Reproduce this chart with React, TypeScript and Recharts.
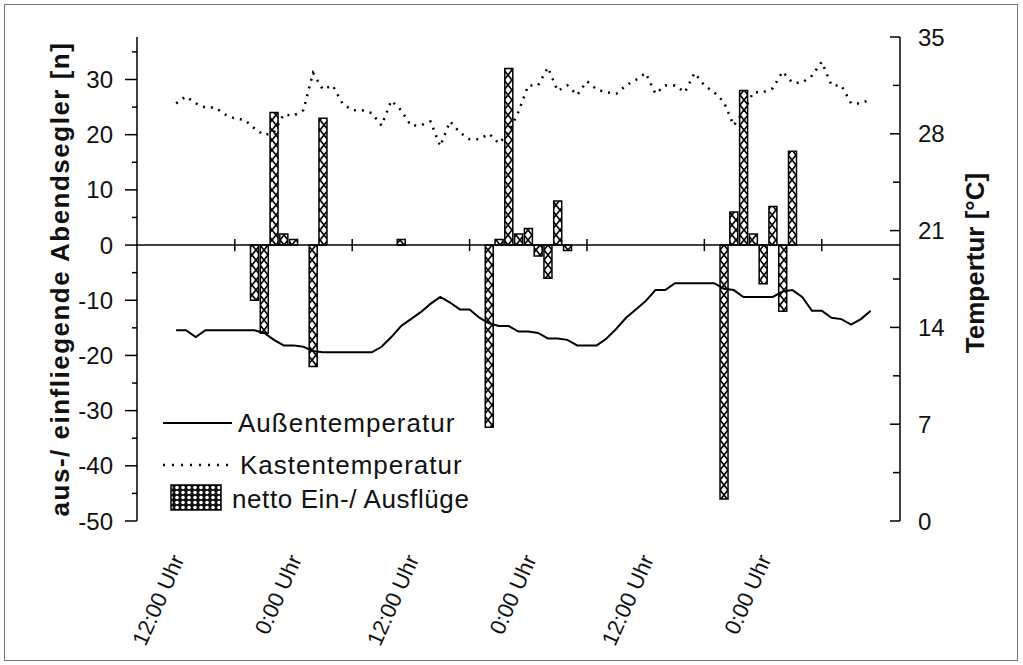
import React from "react";
import {
  ComposedChart,
  Bar,
  Line,
  XAxis,
  YAxis,
  ReferenceLine,
  Label,
} from "recharts";

// hour index of each reading (one per hour, 3 days)
const HOURS = Array.from({ length: 72 }, (_, i) => i);

// Außentemperatur [°C]
const AUSSEN = [
  13.8, 13.8, 13.3, 13.8, 13.8, 13.8, 13.8, 13.8, 13.8, 13.6,
  13.1, 12.7, 12.7, 12.6, 12.3, 12.2, 12.2, 12.2, 12.2, 12.2,
  12.2, 12.6, 13.3, 14.1, 14.6, 15.1, 15.7, 16.2, 15.8, 15.3,
  15.3, 14.7, 14.3, 14.1, 14.1, 13.7, 13.7, 13.6, 13.2, 13.2,
  13.1, 12.7, 12.7, 12.7, 13.2, 13.9, 14.7, 15.3, 15.9, 16.7,
  16.7, 17.2, 17.2, 17.2, 17.2, 17.2, 16.8, 16.7, 16.2, 16.2,
  16.2, 16.2, 16.6, 16.7, 16.2, 15.2, 15.2, 14.7, 14.6, 14.2,
  14.6, 15.2,
];

// Kastentemperatur [°C]
const KASTEN = [
  30.2, 30.7, 30.2, 29.9, 29.9, 29.4, 29.1, 29.0, 28.4, 27.9,
  28.1, 29.4, 29.3, 29.7, 32.4, 31.2, 31.5, 30.2, 29.7, 29.7,
  29.5, 28.6, 30.4, 29.7, 28.6, 28.6, 28.9, 27.1, 28.9, 28.1,
  27.6, 27.6, 28.0, 27.3, 28.1, 29.6, 31.5, 31.5, 32.8, 31.1,
  31.5, 30.8, 31.8, 31.2, 31.0, 30.9, 31.5, 31.9, 32.4, 30.9,
  31.5, 31.5, 31.0, 32.4, 31.5, 31.0, 30.3, 28.6, 29.6, 31.0,
  31.0, 31.3, 32.5, 31.7, 31.7, 32.2, 33.2, 31.5, 31.5, 30.2,
  30.2, 30.5,
];

// netto Ein-/ Ausflüge [n]
const BAR_HOURS = [8, 9, 10, 11, 12, 14, 15, 23, 32, 33, 34, 35, 36, 37, 38, 39, 40, 56, 57, 58, 59, 60, 61, 62, 63];
const BAR_VALUES = [-10, -16, 24, 2, 1, -22, 23, 1, -33, 1, 32, 2, 3, -2, -6, 8, -1, -46, 6, 28, 2, -7, 7, -12, 17];

const X_TICKS = [6, 18, 30, 42, 54, 66];
const X_LABELS = ["12:00 Uhr", "0:00 Uhr", "12:00 Uhr", "0:00 Uhr", "12:00 Uhr", "0:00 Uhr"];

const LEFT_TICKS = [-50, -45, -40, -35, -30, -25, -20, -15, -10, -5, 0, 5, 10, 15, 20, 25, 30, 35];
const RIGHT_TICKS = [0, 3.5, 7, 10.5, 14, 17.5, 21, 24.5, 28, 31.5, 35];

const data = HOURS.map((h, i) => {
  const b = BAR_HOURS.indexOf(h);
  return {
    h,
    aussen: AUSSEN[i],
    kasten: KASTEN[i],
    netto: b >= 0 ? BAR_VALUES[b] : null,
  };
});

const FONT = "'Liberation Sans', Arial, Helvetica, sans-serif";

function LeftTick(props: any) {
  const { x, y, payload } = props;
  const major = payload.value % 10 === 0;
  return (
    <g>
      <line x1={x - (major ? 12 : 5)} y1={y} x2={x} y2={y} stroke="#000" strokeWidth={1.5} />
      {major && (
        <text x={x - 24} y={y} textAnchor="end" dominantBaseline="central" fontSize={24} fontFamily={FONT} fill="#111">
          {payload.value}
        </text>
      )}
    </g>
  );
}

function RightTick(props: any) {
  const { x, y, payload } = props;
  const major = Math.round(payload.value) === payload.value;
  return (
    <g>
      <line x1={x - (major ? 10 : 7)} y1={y} x2={x} y2={y} stroke="#000" strokeWidth={1.5} />
      {major && (
        <text x={x + 18} y={y} textAnchor="start" dominantBaseline="central" fontSize={24} fontFamily={FONT} fill="#111">
          {payload.value}
        </text>
      )}
    </g>
  );
}

function XTick(props: any) {
  const { x, y, payload } = props;
  const i = X_TICKS.indexOf(payload.value);
  const tx = x - 50;
  const ty = y + 38;
  return (
    <text
      x={tx}
      y={ty}
      transform={`rotate(-66, ${tx}, ${ty})`}
      textAnchor="end"
      fontSize={22}
      fontFamily={FONT}
      fill="#111"
    >
      {X_LABELS[i]}
    </text>
  );
}

function Legendbox() {
  return (
    <svg
      width={340}
      height={125}
      style={{ position: "absolute", left: 150, top: 400 }}
    >
      <line x1={13} y1={23} x2={82} y2={23} stroke="#000" strokeWidth={2} />
      <text x={88} y={23} dominantBaseline="central" fontSize={26} letterSpacing={1} fontFamily={FONT} fill="#111">
        Außentemperatur
      </text>
      <line x1={13} y1={65} x2={85} y2={65} stroke="#000" strokeWidth={2.5} strokeDasharray="2 7" />
      <text x={90} y={65} dominantBaseline="central" fontSize={26} letterSpacing={1} fontFamily={FONT} fill="#111">
        Kastentemperatur
      </text>
      <rect x={21} y={85} width={50} height={25} fill="url(#dots)" stroke="#000" strokeWidth={1.5} />
      <text x={82} y={99} dominantBaseline="central" fontSize={26} letterSpacing={0.6} fontFamily={FONT} fill="#111">
        netto Ein-/ Ausflüge
      </text>
    </svg>
  );
}

export default function App() {
  return (
    <div style={{ position: "absolute", left: 0, top: 0, width: 1023, height: 665, background: "#fff" }}>
      <div
        style={{
          position: "absolute",
          left: 4,
          top: 4,
          width: 1012,
          height: 655,
          border: "1.5px solid #777",
        }}
      />
      <svg width={0} height={0} style={{ position: "absolute" }}>
        <defs>
          <pattern id="hatch" patternUnits="userSpaceOnUse" width={8} height={10}>
            <rect width={8} height={10} fill="#fff" />
            <path d="M0,0 L8,10 M8,0 L0,10" stroke="#000" strokeWidth={1.7} />
          </pattern>
          <pattern id="dots" patternUnits="userSpaceOnUse" width={6} height={5}>
            <rect width={6} height={5} fill="#111" />
            <circle cx={3} cy={2.5} r={1.8} fill="#fff" />
          </pattern>
        </defs>
      </svg>
      <ComposedChart
        width={1023}
        height={665}
        data={data}
        margin={{ top: 37, right: 0, bottom: 0, left: 0 }}
        style={{ position: "absolute", left: 0, top: 0 }}
      >
        <XAxis
          type="number"
          dataKey="h"
          domain={[-4, 74]}
          ticks={X_TICKS}
          interval={0}
          height={144}
          axisLine={false}
          tickLine={false}
          tickSize={0}
          tickMargin={0}
          tick={<XTick />}
        />
        <YAxis
          yAxisId="n"
          type="number"
          domain={[-50, 37.7]}
          ticks={LEFT_TICKS}
          interval={0}
          width={137}
          axisLine={{ stroke: "#000", strokeWidth: 1.5 }}
          tickLine={false}
          tickSize={0}
          tickMargin={0}
          tick={<LeftTick />}
        >
          <Label
            content={({ viewBox }: any) => {
              const cx = viewBox.x + 60;
              const cy = viewBox.y + viewBox.height / 2;
              return (
                <text
                  x={cx}
                  y={cy}
                  transform={`rotate(-90, ${cx}, ${cy})`}
                  textAnchor="middle"
                  dominantBaseline="central"
                  fontSize={26}
                  letterSpacing={1.5}
                  fontWeight="bold"
                  fontFamily={FONT}
                  fill="#111"
                >
                  aus-/ einfliegende Abendsegler [n]
                </text>
              );
            }}
          />
        </YAxis>
        <YAxis
          yAxisId="t"
          orientation="right"
          type="number"
          domain={[0, 35]}
          ticks={RIGHT_TICKS}
          interval={0}
          width={123}
          axisLine={{ stroke: "#000", strokeWidth: 1.5 }}
          tickLine={false}
          tickSize={0}
          tickMargin={0}
          tick={<RightTick />}
        >
          <Label
            content={({ viewBox }: any) => {
              const cx = viewBox.x + 75;
              const cy = viewBox.y + 226;
              return (
                <text
                  x={cx}
                  y={cy}
                  transform={`rotate(-90, ${cx}, ${cy})`}
                  textAnchor="middle"
                  dominantBaseline="central"
                  fontSize={26}
                  fontWeight="bold"
                  fontFamily={FONT}
                  fill="#111"
                >
                  Tempertur [°C]
                </text>
              );
            }}
          />
        </YAxis>
        <ReferenceLine yAxisId="n" y={0} stroke="#000" strokeWidth={1.5} />
        {X_TICKS.map((t) => (
          <ReferenceLine
            key={t}
            yAxisId="n"
            segment={[
              { x: t, y: -1.1 },
              { x: t, y: 1.1 },
            ]}
            stroke="#000"
            strokeWidth={1.5}
          />
        ))}
        <Bar
          yAxisId="n"
          dataKey="netto"
          barSize={8}
          fill="url(#hatch)"
          stroke="#000"
          strokeWidth={1.5}
          isAnimationActive={false}
        />
        <Line
          yAxisId="t"
          dataKey="aussen"
          stroke="#000"
          strokeWidth={2}
          dot={false}
          isAnimationActive={false}
        />
        <Line
          yAxisId="t"
          dataKey="kasten"
          stroke="#000"
          strokeWidth={2.5}
          strokeDasharray="2 6"
          dot={false}
          isAnimationActive={false}
        />
      </ComposedChart>
      <Legendbox />
    </div>
  );
}
